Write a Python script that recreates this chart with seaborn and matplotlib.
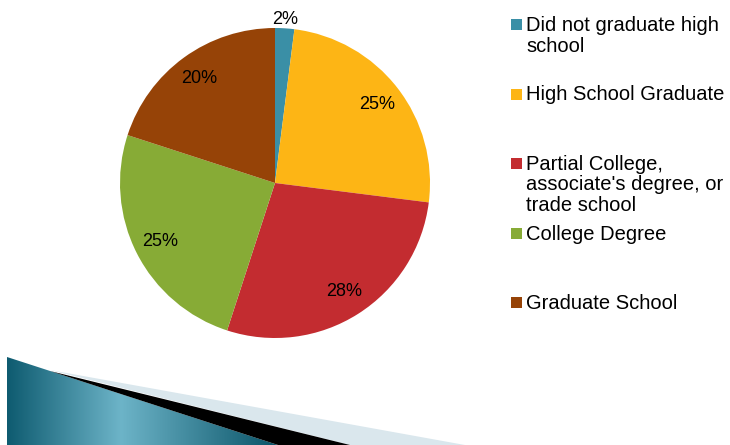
import numpy as np
import matplotlib
matplotlib.use("Agg")
import matplotlib.pyplot as plt
from matplotlib.patches import Polygon, Rectangle
from matplotlib.colors import LinearSegmentedColormap
import seaborn as sns

# Educational attainment shares
categories = [
    "Did not graduate high\nschool",
    "High School Graduate",
    "Partial College,\nassociate's degree, or\ntrade school",
    "College Degree",
    "Graduate School",
]
shares = [2, 25, 28, 25, 20]
slice_colors = ["#3a8fa6", "#fdb515", "#c32c30", "#87ab36", "#964307"]

sns.set_theme(style="white")
plt.rcParams["font.family"] = ["Liberation Sans", "DejaVu Sans"]

W, H = 730, 445
fig = plt.figure(figsize=(W / 100, H / 100), dpi=100)
fig.patch.set_facecolor("white")

# Pixel-coordinate layer for the slide ribbon and the legend
bg = fig.add_axes([0, 0, 1, 1], zorder=0)
bg.axis("off")

teal = Polygon([(7, 357), (278, 445), (7, 445)], closed=True,
               facecolor="none", edgecolor="none")
bg.add_patch(teal)
ribbon = LinearSegmentedColormap.from_list(
    "ribbon", [(0, "#0e5b70"), (0.42, "#6db4c8"), (1, "#0a5468")])
grad = np.linspace(0, 1, 256)[None, :]
im = bg.imshow(grad, extent=(7, 278, 445, 357), cmap=ribbon,
               aspect="auto", interpolation="bicubic")
im.set_clip_path(teal)
bg.add_patch(Polygon([(50, 370), (465, 445), (350, 445)],
                     facecolor="#dae7ed", edgecolor="none"))
bg.add_patch(Polygon([(50, 371), (350, 445), (278, 445)],
                     facecolor="black", edgecolor="none"))
bg.set_xlim(0, W)
bg.set_ylim(H, 0)

# Legend with evenly spaced entries; each label line set on its own baseline
baseline0, step, line_step = 31, 69.5, 20.5
for i, (lab, col) in enumerate(zip(categories, slice_colors)):
    yb = baseline0 + i * step
    bg.add_patch(Rectangle((511, yb - 12), 11, 11, facecolor=col,
                           edgecolor="none"))
    for j, line in enumerate(lab.split("\n")):
        bg.text(526, yb + j * line_step, line, fontsize=14.5,
                va="baseline", ha="left", color="black")

# Pie chart
cx, cy, r = 275, 183, 155
ax = fig.add_axes([(cx - r) / W, (H - cy - r) / H, 2 * r / W, 2 * r / H],
                  zorder=1)
wedges, texts, autotexts = ax.pie(
    shares, colors=slice_colors, startangle=90, counterclock=False,
    autopct="%.0f%%", pctdistance=0.83, wedgeprops=dict(linewidth=0),
    textprops=dict(fontsize=13, color="black"))
for t, v in zip(autotexts, shares):
    t.set_text(f"{v}%")

# The smallest slice gets its label just outside the rim
w0 = wedges[0]
mid = np.deg2rad((w0.theta1 + w0.theta2) / 2)
autotexts[0].set_position((1.06 * np.cos(mid), 1.06 * np.sin(mid)))

ax.set_xlim(-1, 1)
ax.set_ylim(-1, 1)
ax.set_aspect("equal")
ax.axis("off")

fig.savefig("out.png", dpi=100, facecolor="white")
